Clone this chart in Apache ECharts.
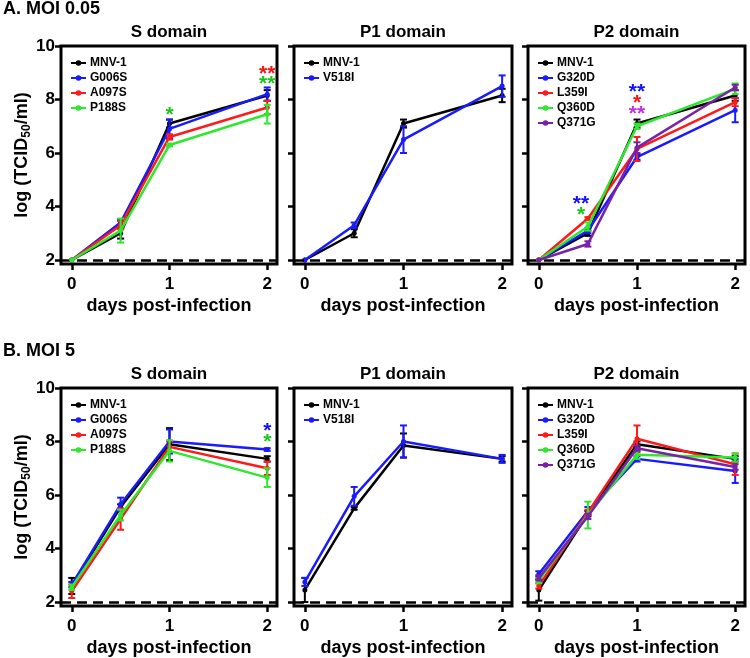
<!DOCTYPE html>
<html lang="en">
<head>
<meta charset="utf-8">
<title>MNV growth curves</title>
<script src="https://cdn.jsdelivr.net/npm/echarts@6/dist/echarts.min.js"></script>
<style>
    html, body { margin: 0; padding: 0; background: #fff; }
    #main { width: 750px; height: 658px; }
</style>
</head>
<body>
<div id="main"></div>
<script type="text/javascript">
    // sampling times, days post-infection
    var days = [0, 0.5, 1, 2];
    var xTicks = [0, 1, 2];
    var yTicks = [2, 4, 6, 8, 10];
    var detectionLimit = 2;
    var panelTitles = ['S domain', 'P1 domain', 'P2 domain'];
    var rowTitles = ['A. MOI 0.05', 'B. MOI 5'];

    var sNames = ['MNV-1', 'G006S', 'A097S', 'P188S'];
    var p1Names = ['MNV-1', 'V518I'];
    var p2Names = ['MNV-1', 'G320D', 'L359I', 'Q360D', 'Q371G'];

    // A. MOI 0.05 - mean log titre per strain, one row per strain
    var lowS_mean = [[2, 3.0, 7.1, 8.15], [2, 3.4, 6.9, 8.2], [2, 3.3, 6.6, 7.7], [2, 3.1, 6.3, 7.45]];
    var lowS_sd = [[0, 0.2, 0.15, 0.2], [0, 0.1, 0.35, 0.25], [0, 0.15, 0.1, 0.25], [0, 0.45, 0.05, 0.35]];
    var lowP1_mean = [[2, 3.0, 7.1, 8.15], [2, 3.3, 6.5, 8.5]];
    var lowP1_sd = [[0, 0.15, 0.15, 0.25], [0, 0.1, 0.5, 0.4]];
    var lowP2_mean = [[2, 3.0, 7.1, 8.15], [2, 3.1, 5.85, 7.6], [2, 3.55, 6.15, 7.9], [2, 3.25, 7.0, 8.4], [2, 2.6, 6.2, 8.45]];
    var lowP2_sd = [[0, 0.1, 0.15, 0.2], [0, 0.1, 0.1, 0.45], [0, 0.05, 0.45, 0.15], [0, 0.15, 0.1, 0.2], [0, 0.1, 0.2, 0.1]];

    // B. MOI 5
    var highS_mean = [[2.6, 5.55, 7.9, 7.35], [2.65, 5.65, 8.0, 7.7], [2.4, 5.1, 7.8, 7.0], [2.55, 5.25, 7.65, 6.65]];
    var highS_sd = [[0.3, 0.1, 0.6, 0.1], [0.1, 0.25, 0.45, 0.05], [0.25, 0.4, 0.2, 0.25], [0.1, 0.2, 0.4, 0.35]];
    var highP1_mean = [[2.45, 5.5, 7.85, 7.35], [2.75, 5.95, 8.0, 7.35]];
    var highP1_sd = [[0.45, 0.05, 0.45, 0.1], [0.15, 0.35, 0.6, 0.15]];
    var highP2_mean = [[2.45, 5.3, 7.9, 7.35], [3.05, 5.4, 7.35, 6.9], [2.6, 5.35, 8.1, 7.15], [2.8, 5.25, 7.5, 7.4], [2.9, 5.2, 7.75, 7.05]];
    var highP2_sd = [[0.4, 0.1, 0.1, 0.1], [0.1, 0.15, 0.1, 0.45], [0.1, 0.1, 0.5, 0.4], [0.1, 0.5, 0.15, 0.15], [0.1, 0.1, 0.1, 0.1]];

    // significance marks: [day, y, text, strain]
    var lowS_stars = [[1, 7.4, '*', 'P188S'], [2, 8.95, '**', 'A097S'], [2, 8.58, '**', 'P188S']];
    var lowP1_stars = [];
    var lowP2_stars = [[0.43, 4.08, '**', 'G320D'], [0.43, 3.67, '*', 'Q360D'],
                       [1, 8.28, '**', 'G320D'], [1, 7.86, '*', 'L359I'], [1, 7.45, '**', 'Q371G']];
    var highS_stars = [[2, 8.4, '*', 'G006S'], [2, 7.98, '*', 'P188S']];
    var highP1_stars = [];
    var highP2_stars = [];

    var colors = {
        'MNV-1': '#000000', 'G006S': '#1a1aff', 'A097S': '#ff1a1a', 'P188S': '#2ee82e',
        'V518I': '#1a1aff', 'G320D': '#1a1aff', 'L359I': '#ff1a1a', 'Q360D': '#2ee82e', 'Q371G': '#7a22a6'
    };
    var starColors = {
        'G006S': '#1010ff', 'A097S': '#ff1010', 'P188S': '#18c818',
        'G320D': '#1010ff', 'L359I': '#ff1010', 'Q360D': '#18c818', 'Q371G': '#c030e0'
    };

    var FONT = 'Liberation Sans';

    var panels = [
        {names: sNames, mean: lowS_mean, sd: lowS_sd, stars: lowS_stars},
        {names: p1Names, mean: lowP1_mean, sd: lowP1_sd, stars: lowP1_stars},
        {names: p2Names, mean: lowP2_mean, sd: lowP2_sd, stars: lowP2_stars},
        {names: sNames, mean: highS_mean, sd: highS_sd, stars: highS_stars},
        {names: p1Names, mean: highP1_mean, sd: highP1_sd, stars: highP1_stars},
        {names: p2Names, mean: highP2_mean, sd: highP2_sd, stars: highP2_stars}
    ];

    var colLeft = [61, 294, 528];
    var colWidth = [216, 218, 217];
    var rowTop = [46, 388];
    var plotHeight = 218;

    // error bar with caps
    function renderErr(params, api) {
        var x = api.value(0), m = api.value(1), e = api.value(2);
        if (!e) return;
        var top = api.coord([x, m + e]);
        var bot = api.coord([x, m - e]);
        var c = api.visual('color');
        var w = 3.5;
        var st = {stroke: c, lineWidth: 2};
        return {
            type: 'group',
            children: [
                {type: 'line', shape: {x1: top[0], y1: top[1], x2: bot[0], y2: bot[1]}, style: st},
                {type: 'line', shape: {x1: top[0] - w, y1: top[1], x2: top[0] + w, y2: top[1]}, style: st},
                {type: 'line', shape: {x1: bot[0] - w, y1: bot[1], x2: bot[0] + w, y2: bot[1]}, style: st}
            ]
        };
    }

    var grids = [], xAxes = [], yAxes = [], legends = [], titles = [], series = [];

    rowTitles.forEach(function (t, r) {
        titles.push({
            text: t, left: 3, top: rowTop[r] - 46, padding: 0,
            textStyle: {fontFamily: FONT, fontWeight: 'bold', fontSize: 18, color: '#000'}
        });
    });

    panels.forEach(function (p, i) {
        var r = Math.floor(i / 3), c = i % 3;
        var left = colLeft[c], top = rowTop[r];
        grids.push({
            left: left, top: top, width: colWidth[c], height: plotHeight,
            show: true, borderColor: '#000', borderWidth: 3, backgroundColor: 'transparent'
        });
        titles.push({
            text: panelTitles[c], left: left + colWidth[c] / 2, top: top - 22, textAlign: 'center', padding: 0,
            textStyle: {fontFamily: FONT, fontWeight: 'bold', fontSize: 17, color: '#000'}
        });
        xAxes.push({
            gridIndex: i, type: 'value', min: -0.11, max: 2.1,
            name: 'days post-infection', nameLocation: 'middle', nameGap: 33,
            nameTextStyle: {fontFamily: FONT, fontWeight: 'bold', fontSize: 18, color: '#000'},
            axisLine: {show: false, onZero: false},
            axisTick: {show: true, length: 6, customValues: xTicks, lineStyle: {color: '#000', width: 2.5}},
            axisLabel: {customValues: xTicks, margin: 12, fontFamily: FONT, fontWeight: 'bold', fontSize: 17, color: '#000'},
            splitLine: {show: false}
        });
        var yAx = {
            gridIndex: i, type: 'value', min: 1.85, max: 10,
            axisLine: {show: false, onZero: false},
            axisTick: {show: true, length: 6, customValues: yTicks, lineStyle: {color: '#000', width: 2.5}},
            axisLabel: {show: c === 0, customValues: yTicks, margin: 6, fontFamily: FONT, fontWeight: 'bold', fontSize: 17, color: '#000'},
            splitLine: {show: false}
        };
        if (c === 0) {
            yAx.name = 'log (TCID{sub|50}/ml)';
            yAx.nameLocation = 'middle';
            yAx.nameGap = 26;
            yAx.nameTextStyle = {
                fontFamily: FONT, fontWeight: 'bold', fontSize: 18, color: '#000',
                rich: {sub: {fontFamily: FONT, fontWeight: 'bold', fontSize: 12, color: '#000', verticalAlign: 'bottom', padding: [8, 0, 0, 0]}}
            };
        }
        yAxes.push(yAx);
        legends.push({
            orient: 'vertical', left: left + 9, top: top + 11, padding: 0,
            itemWidth: 15, itemHeight: 7, itemGap: 3, selectedMode: false,
            data: p.names,
            textStyle: {fontFamily: FONT, fontWeight: 'bold', fontSize: 12, color: '#000', padding: [0, 0, 0, -1]}
        });

        p.names.forEach(function (name, k) {
            var line = {
                name: name, type: 'line', xAxisIndex: i, yAxisIndex: i,
                data: days.map(function (d, j) { return [d, p.mean[k][j]]; }),
                symbol: 'circle', symbolSize: 5, color: colors[name],
                lineStyle: {width: 2.5}, z: 3 + k, animation: false
            };
            if (k === 0) {
                line.markLine = {
                    silent: true, symbol: 'none', label: {show: false},
                    lineStyle: {color: '#000', width: 2.5, type: [10, 6]},
                    data: [{yAxis: detectionLimit}]
                };
            }
            series.push(line);
            series.push({
                name: name, type: 'custom', xAxisIndex: i, yAxisIndex: i,
                renderItem: renderErr, itemStyle: {color: colors[name]}, z: 3 + k, animation: false,
                data: days.map(function (d, j) { return [d, p.mean[k][j], p.sd[k][j]]; })
            });
        });

        if (p.stars.length) {
            series.push({
                name: 'significance', type: 'scatter', xAxisIndex: i, yAxisIndex: i,
                symbolSize: 1, itemStyle: {color: 'transparent'}, z: 10, silent: true, animation: false,
                data: p.stars.map(function (s) {
                    return {
                        value: [s[0], s[1]],
                        label: {show: true, position: 'inside', formatter: s[2], color: starColors[s[3]],
                                textBorderWidth: 0, opacity: 1,
                                fontFamily: FONT, fontWeight: 'bold', fontSize: 21}
                    };
                })
            });
        }
    });

    var myChart = echarts.init(document.getElementById('main'));
    myChart.setOption({
        animation: false,
        backgroundColor: '#fff',
        title: titles,
        legend: legends,
        grid: grids,
        xAxis: xAxes,
        yAxis: yAxes,
        series: series
    });
</script>
</body>
</html>
